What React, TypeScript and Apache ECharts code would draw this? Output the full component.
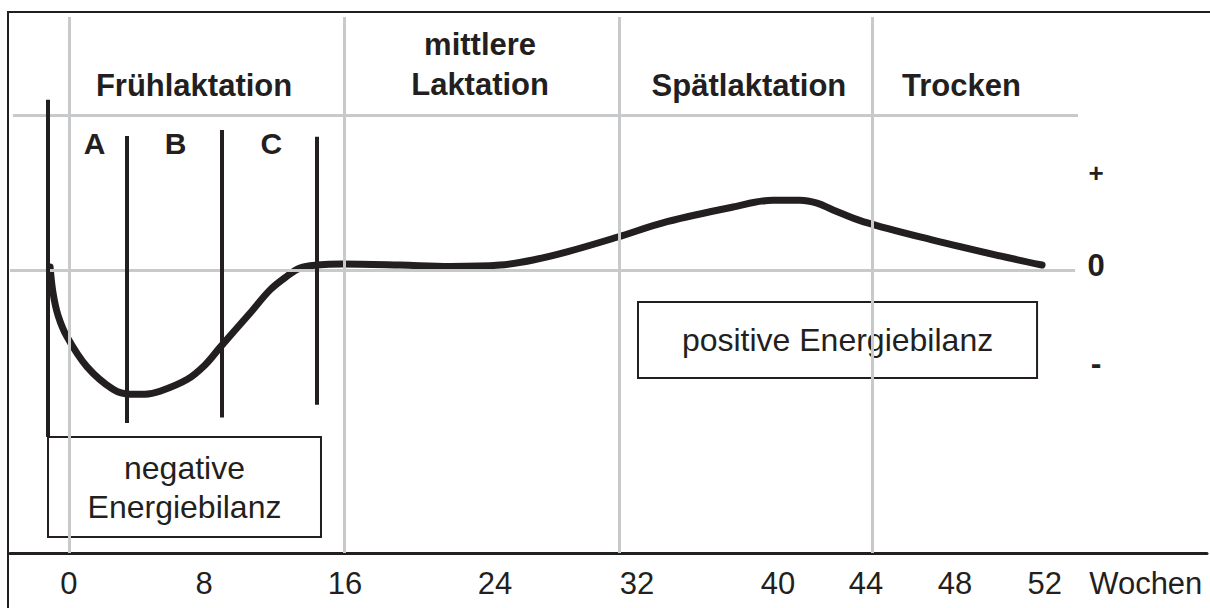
import React, { useEffect, useRef } from "react";
import * as echarts from "echarts";

const INK = "#231f20";
const GREY = "#c8c9cb";
const FONT = '"Liberation Sans", Arial, Helvetica, sans-serif';

// x axis: schematic week scale (axis units ~ weeks; the dry-period part is stretched)
const tickLabels = ["0", "8", "16", "24", "32", "40", "44", "48", "52"];
const tickAt = [0, 7.85, 16.05, 24.77, 33.02, 41.22, 46.34, 51.51, 56.72];
const unitName = "Wochen";
const unitAt = 62.6;

// y axis: energy balance sign
const balanceLabels = ["-", "0", "+"];
const balanceAt = [-1, 0, 1];

// energy balance curve
const curveX = [-1.1, -0.93, -0.64, -0.12, 1.05, 2.56, 3.55, 4.42, 5.29, 6.86, 7.91, 8.78, 10.52, 11.69, 12.67, 13.43, 14.42, 15.87, 19.24, 22.15, 25.06, 26.98, 28.95, 31.86, 34.77, 38.6, 40.93, 42.5, 43.49, 44.42, 46.16, 50.23, 54.13, 56.57];
const curveY = [0.035, -0.23, -0.46, -0.68, -0.99, -1.22, -1.27, -1.27, -1.24, -1.12, -0.97, -0.79, -0.44, -0.2, -0.06, 0.025, 0.055, 0.066, 0.055, 0.04, 0.055, 0.107, 0.19, 0.34, 0.5, 0.65, 0.72, 0.72, 0.69, 0.62, 0.5, 0.31, 0.148, 0.055];

// lactation phases
const phaseNames = ["Frühlaktation", "mittlere\nLaktation", "Spätlaktation", "Trocken"];
const phaseX = [7.27, 23.9, 39.53, 51.88];
const phaseY = [1.9, 2.108, 1.9, 1.9];
const phaseBounds = [0, 16, 32, 46.7];
const headerLineY = 1.595;
const headerLineX = [-3.26, 58.66];
const zeroLineX = [-3.43, 58.49];

// early lactation stages
const stageNames = ["A", "B", "C"];
const stageX = [1.48, 6.19, 11.77];
const stageY = 1.307;
const dividerX = [-1.22, 3.37, 8.9, 14.4];
const dividerTop = [1.75, 1.38, 1.44, 1.37];
const dividerBottom = [-1.71, -1.565, -1.51, -1.38];

// annotation boxes
const boxTexts = ["negative\nEnergiebilanz", "positive Energiebilanz"];
const boxX = [[-1.22, 14.65], [33.08, 56.28]];
const boxY = [[-2.736, -1.71], [-1.104, -0.324]];

const X_MIN = -3.43;
const X_MAX = 66.16;
const Y_MIN = -2.9;
const Y_MAX = 2.6;

const findLabel = (v: number, at: number[], labels: string[]) => {
  const i = at.findIndex((t) => Math.abs(t - v) < 1e-6);
  return i >= 0 ? labels[i] : "";
};

function buildOption() {
  const plainLine = (color: string, width: number) => ({
    symbol: ["none", "none"],
    silent: true,
    label: { show: false },
    emphasis: { disabled: true },
    lineStyle: { color, width, type: "solid" as const, opacity: 1 },
  });

  const textLabel = (weight: string, size: number, lineHeight: number) => ({
    show: true,
    position: [0, 0],
    align: "center",
    verticalAlign: "middle",
    formatter: "{b}",
    color: INK,
    opacity: 1,
    textBorderWidth: 0,
    fontSize: size,
    fontWeight: weight,
    lineHeight,
    fontFamily: FONT,
  });

  return {
    animation: false,
    backgroundColor: "#ffffff",
    textStyle: { fontFamily: FONT },
    grid: { left: 10, right: 3, top: 17, bottom: 55, containLabel: false, outerBoundsMode: "none" },
    graphic: [
      { type: "line", shape: { x1: 7, y1: 12, x2: 1210, y2: 12 }, style: { stroke: INK, lineWidth: 2 }, z: 100 },
      { type: "line", shape: { x1: 8, y1: 11, x2: 8, y2: 608 }, style: { stroke: INK, lineWidth: 2 }, z: 100 },
    ],
    xAxis: {
      type: "value",
      min: X_MIN,
      max: X_MAX,
      axisLine: { show: true, onZero: false, lineStyle: { color: INK, width: 3 } },
      axisTick: { show: false },
      splitLine: { show: false },
      axisLabel: {
        show: true,
        customValues: [...tickAt, unitAt],
        margin: 15,
        color: INK,
        fontSize: 31,
        lineHeight: 31,
        fontFamily: FONT,
        showMinLabel: true,
        showMaxLabel: true,
        formatter: (v: number) =>
          Math.abs(v - unitAt) < 1e-6 ? unitName : findLabel(v, tickAt, tickLabels),
      },
    },
    yAxis: {
      type: "value",
      position: "right",
      min: Y_MIN,
      max: Y_MAX,
      axisLine: { show: false },
      axisTick: { show: false },
      splitLine: { show: false },
      axisLabel: {
        show: true,
        inside: true,
        align: "center",
        margin: 111,
        customValues: balanceAt,
        color: INK,
        fontFamily: FONT,
        fontWeight: "bold",
        fontSize: 30,
        formatter: (v: number) => {
          const s = findLabel(v, balanceAt, balanceLabels);
          return s === "+" ? "{p|+}" : s === "-" ? "{m|-}" : "{z|" + s + "}";
        },
        rich: {
          p: { fontSize: 26, fontWeight: "bold", color: INK, fontFamily: FONT },
          m: { fontSize: 32, fontWeight: "bold", color: INK, fontFamily: FONT, padding: [0, 0, 10, 0] },
          z: { fontSize: 31, fontWeight: "bold", color: INK, fontFamily: FONT, padding: [0, 0, 10, 0] },
        },
      },
    },
    series: [
      {
        name: "horizontal guides",
        type: "line",
        data: [],
        z: 1,
        markLine: {
          ...plainLine(GREY, 3),
          data: [
            [{ coord: [headerLineX[0], headerLineY] }, { coord: [headerLineX[1], headerLineY] }],
            [{ coord: [zeroLineX[0], 0] }, { coord: [zeroLineX[1], 0] }],
          ],
        },
      },
      {
        name: "Energiebilanz",
        type: "line",
        data: curveX.map((x, i) => [x, curveY[i]]),
        smooth: 0.35,
        symbol: "none",
        z: 3,
        lineStyle: { color: INK, width: 7, cap: "round", join: "round" },
      },
      {
        name: "phase bounds",
        type: "line",
        data: [],
        z: 4,
        markLine: {
          ...plainLine(GREY, 3),
          data: phaseBounds.map((x) => ({ xAxis: x })),
        },
      },
      {
        name: "stage dividers",
        type: "line",
        data: [],
        z: 5,
        markLine: {
          ...plainLine(INK, 4),
          data: dividerX.map((x, i) => [{ coord: [x, dividerTop[i]] }, { coord: [x, dividerBottom[i]] }]),
        },
      },
      {
        name: "boxes",
        type: "line",
        data: [],
        z: 6,
        markArea: {
          silent: true,
          emphasis: { disabled: true },
          itemStyle: { color: "#ffffff", borderColor: INK, borderWidth: 2, opacity: 1 },
          label: {
            show: true,
            position: "inside",
            color: INK,
            fontSize: 32,
            lineHeight: 39,
            fontFamily: FONT,
          },
          data: boxTexts.map((t, i) => [
            { name: t, xAxis: boxX[i][0], yAxis: boxY[i][0] },
            { xAxis: boxX[i][1], yAxis: boxY[i][1] },
          ]),
        },
      },
      {
        name: "phases",
        type: "scatter",
        z: 7,
        symbolSize: 0,
        itemStyle: { color: INK },
        silent: true,
        data: phaseNames.map((n, i) => ({ name: n, value: [phaseX[i], phaseY[i]] })),
        label: textLabel("bold", 31, 40),
      },
      {
        name: "stages",
        type: "scatter",
        z: 7,
        symbolSize: 0,
        itemStyle: { color: INK },
        silent: true,
        data: stageNames.map((n, i) => ({ name: n, value: [stageX[i], stageY] })),
        label: textLabel("bold", 30, 30),
      },
    ],
  };
}

export default function App() {
  const ref = useRef<HTMLDivElement>(null);
  useEffect(() => {
    if (!ref.current) return;
    const chart = echarts.init(ref.current, null, { renderer: "svg" });
    chart.setOption(buildOption() as any);
    return () => chart.dispose();
  }, []);
  return (
    <div
      ref={ref}
      style={{ position: "fixed", left: 0, top: 0, width: 1210, height: 608, background: "#fff" }}
    />
  );
}
